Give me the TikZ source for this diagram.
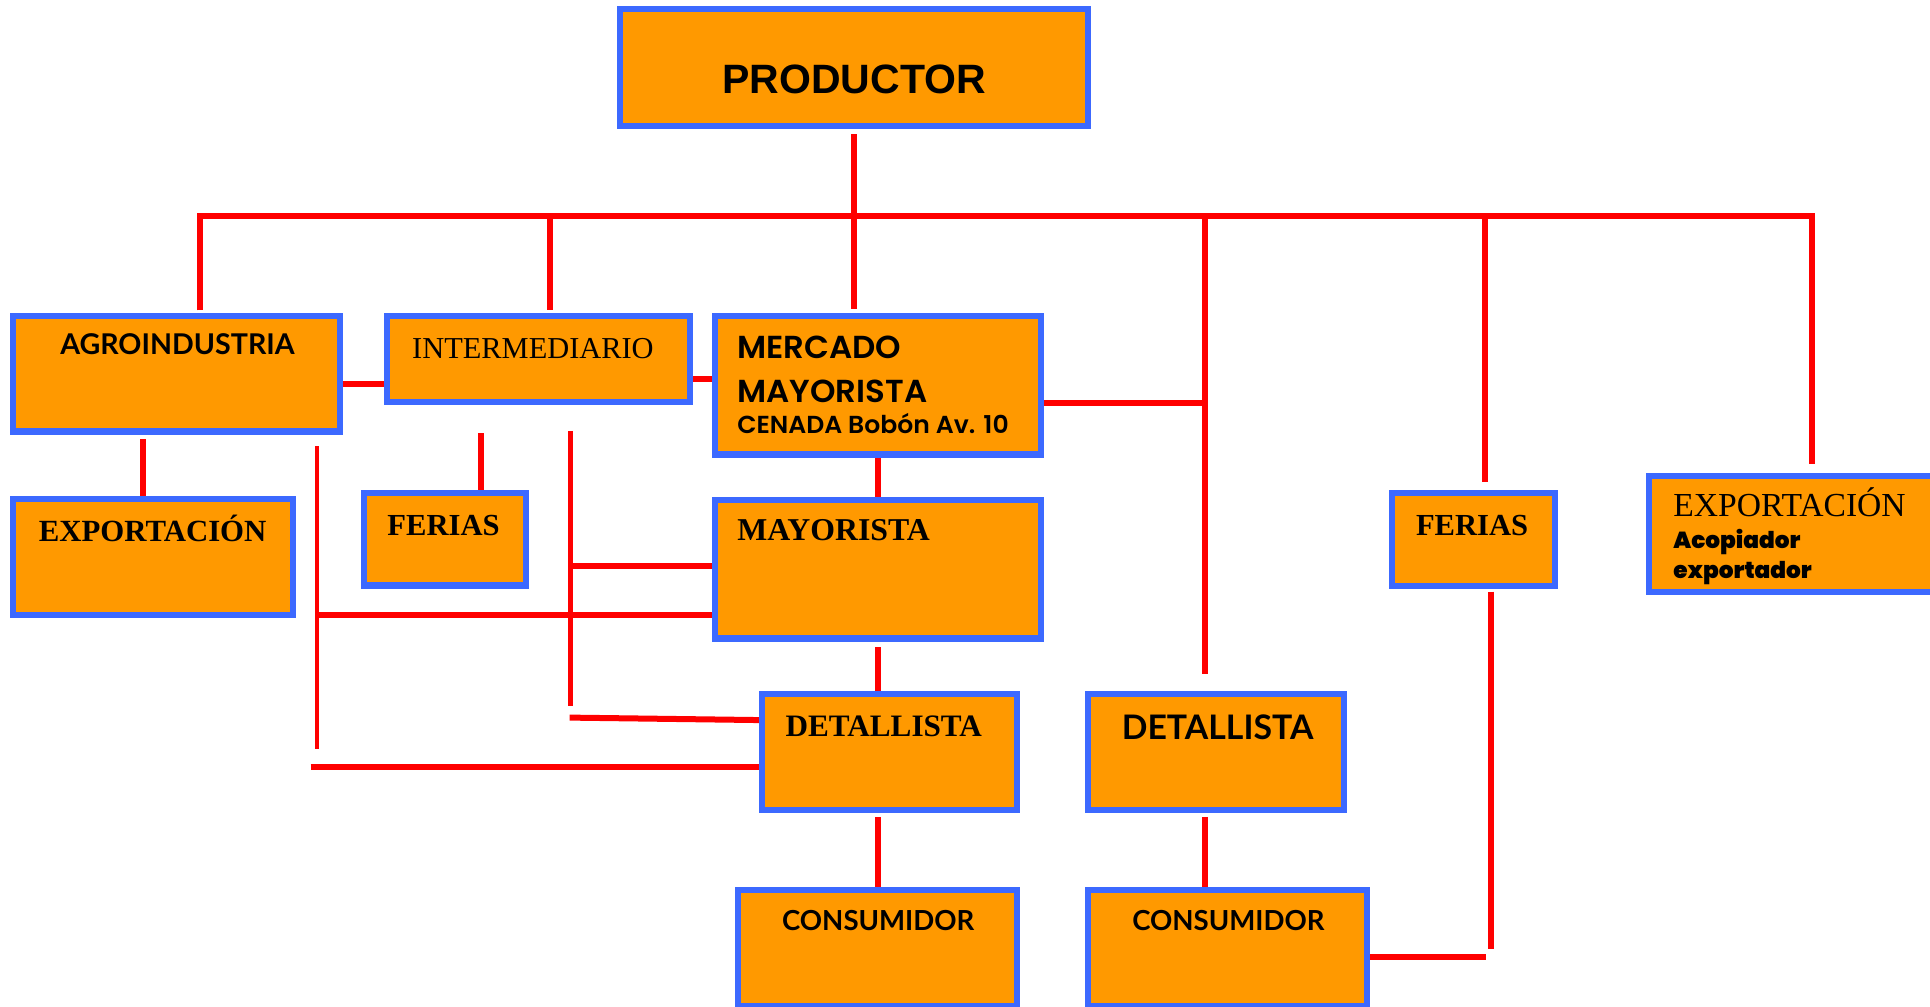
\documentclass[tikz,border=0pt]{standalone}
\usepackage{fontspec}
\setmainfont{Liberation Serif}
\newfontfamily\arialf{Liberation Sans}
\newfontfamily\geof{Poppins SemiBold}[FakeStretch=1.02]
\newfontfamily\humf{Lato}
\newfontfamily\heavyf{Poppins Black}
\definecolor{boxfill}{RGB}{255,153,0}
\definecolor{boxline}{RGB}{60,105,255}
\definecolor{linkred}{RGB}{255,0,0}
\newcommand\mkbox[5]{\node[box, minimum width={(#4-#2)*0.61545pt-3.1pt}, minimum height={(#5-#3)*0.61545pt-3.1pt}] (#1) at ({(#2+#4)/2},{(#3+#5)/2}) {};}
\tikzset{
  box/.style={rectangle, draw=boxline, fill=boxfill, line width=3.1pt, inner sep=0pt, outer sep=1.55pt},
  link/.style={draw=linkred, line width=3pt},
  thinlink/.style={draw=linkred, line width=2.4pt},
  lbl/.style={inner sep=0pt, outer sep=0pt, text=black},
  serifb/.style={font=\rmfamily\bfseries\fontsize{#1}{#1}\selectfont},
  humb/.style={font=\humf\bfseries\fontsize{#1}{#1}\selectfont},
}
\begin{document}
\begin{tikzpicture}[x=0.61545pt, y=-0.61545pt]
\useasboundingbox[fill=white] (0,0) rectangle (1568,818);
% boxes
\mkbox{prod}{501.5}{5}{886.5}{105}
\mkbox{agro}{8.2}{254}{278.6}{353}
\mkbox{inter}{311.8}{254}{563.3}{329.3}
\mkbox{merc}{578.2}{254}{848.2}{371.8}
\mkbox{expL}{8.2}{403}{240.6}{502.3}
\mkbox{ferL}{293.2}{398}{430.1}{478.2}
\mkbox{may}{578.2}{403.5}{848.2}{521.3}
\mkbox{detL}{616.6}{561.4}{829}{660.8}
\mkbox{detR}{881.3}{561.4}{1094.6}{660.8}
\mkbox{consL}{597}{720.4}{829}{819.5}
\mkbox{consR}{881.3}{720.4}{1113.4}{819.5}
\mkbox{ferR}{1128.3}{398}{1265.7}{478.8}
\mkbox{expR}{1337.2}{384}{1574}{483.4}
% texts
\node[lbl, anchor=base, font=\arialf\bfseries\fontsize{20.5}{24}\selectfont] (t-prod) at (694,76) {PRODUCTOR};
\node[lbl, anchor=base, humb=14.3] (t-agro) at (144.2,288.4) {AGROINDUSTRIA};
\node[lbl, anchor=base, font=\rmfamily\fontsize{15.2}{18}\selectfont] (t-inter) at (433,291) {INTERMEDIARIO};
\node[lbl, anchor=base west, font=\geof\fontsize{15.9}{18}\selectfont] (t-merc1) at (599,291) {MERCADO};
\node[lbl, anchor=base west, font=\geof\fontsize{15.9}{18}\selectfont] (t-merc2) at (599,326.6) {MAYORISTA};
\node[lbl, anchor=base west, font=\geof\fontsize{12.3}{14}\selectfont] (t-merc3) at (599,352) {CENADA Bobón Av. 10};
\node[lbl, anchor=base, serifb=15.4] (t-expL) at (124,440) {EXPORTACIÓN};
\node[lbl, anchor=base, serifb=15.3] (t-ferL) at (360.4,435) {FERIAS};
\node[lbl, anchor=base west, serifb=15.9] (t-may) at (599,439.3) {MAYORISTA};
\node[lbl, anchor=base, serifb=15.6] (t-detL) at (718,598.5) {DETALLISTA};
\node[lbl, anchor=base, humb=16.9] (t-detR) at (989.2,600.7) {DETALLISTA};
\node[lbl, anchor=base, humb=13.8] (t-consL) at (713.5,756) {CONSUMIDOR};
\node[lbl, anchor=base, humb=13.8] (t-consR) at (998,756) {CONSUMIDOR};
\node[lbl, anchor=base, serifb=15.3] (t-ferR) at (1196,435) {FERIAS};
\node[lbl, anchor=base west, font=\rmfamily\fontsize{16.8}{18}\selectfont] (t-expR) at (1359.5,420) {EXPORTACIÓN};
\node[lbl, anchor=base west, font=\heavyf\fontsize{11.6}{14}\selectfont] (t-aco) at (1359.5,445.5) {Acopiador};
\node[lbl, anchor=base west, font=\heavyf\fontsize{11.6}{14}\selectfont] (t-expo) at (1359.5,469.6) {exportador};
% helper coordinates
\coordinate (busL) at (162.3,175.5);
\coordinate (busR) at (1472.5,175.5);
\coordinate (dI) at (446.9,175.5);
\coordinate (d979) at (978.6,175.5);
\coordinate (d979b) at (978.6,547.6);
\coordinate (dF) at (1206.5,175.5);
\coordinate (h1) at (0,312.3);
\coordinate (h2) at (0,308);
\coordinate (h3) at (0,327.1);
\coordinate (v1) at (116.4,0);
\coordinate (f1) at (390.7,352);
\coordinate (iv1) at (463.3,350);
\coordinate (iv2) at (463.3,573.6);
\coordinate (h4) at (0,459.6);
\coordinate (s1) at (462.8,583);
\coordinate (h5) at (0,585);
\coordinate (av1) at (257.5,362.4);
\coordinate (av2) at (257.5,608.8);
\coordinate (h6) at (0,499.7);
\coordinate (lo1) at (252.4,623.4);
\coordinate (fr1) at (1211,480.7);
\coordinate (fr2) at (1211,771);
\coordinate (fr3) at (1207,777.2);
% connectors
\draw[link, shorten <=2.5pt, shorten >=1.8pt] (prod.south) -- (prod.south |- merc.north);
\draw[link, shorten <=1.2pt, shorten >=4.3pt] (busL |- agro.north) -- (busL) -- (busR) -- (busR |- expR.north);
\draw[link, shorten >=1.2pt] (dI) -- (dI |- inter.north);
\draw[link] (d979) -- (d979b);
\draw[link, shorten >=4.1pt] (dF) -- (dF |- ferR.north);
\draw[link] (agro.east |- h1) -- (inter.west |- h1);
\draw[link] (inter.east |- h2) -- (merc.west |- h2);
\draw[link] (merc.east |- h3) -- (d979 |- h3);
\draw[link, shorten <=2.3pt] (v1 |- agro.south) -- (v1 |- expL.north);
\draw[link] (f1) -- (f1 |- ferL.north);
\draw[thinlink] (iv1) -- (iv2);
\draw[link] (iv1 |- h4) -- (may.west |- h4);
\draw[link] (s1) -- (detL.west |- h5);
\draw[thinlink] (av1) -- (av2);
\draw[link] (av1 |- h6) -- (may.west |- h6);
\draw[link] (lo1) -- (detL.west |- lo1);
\draw[link] (merc.south) -- (may.north);
\draw[link, shorten <=2.9pt] (may.south) -- (may.south |- detL.north);
\draw[link, shorten <=1.7pt] (may.south |- detL.south) -- (may.south |- consL.north);
\draw[link, shorten <=1.7pt] (d979 |- detR.south) -- (d979 |- consR.north);
\draw[link] (fr1) -- (fr2);
\draw[link] (consR.east |- fr3) -- (fr3);
\end{tikzpicture}
\end{document}
